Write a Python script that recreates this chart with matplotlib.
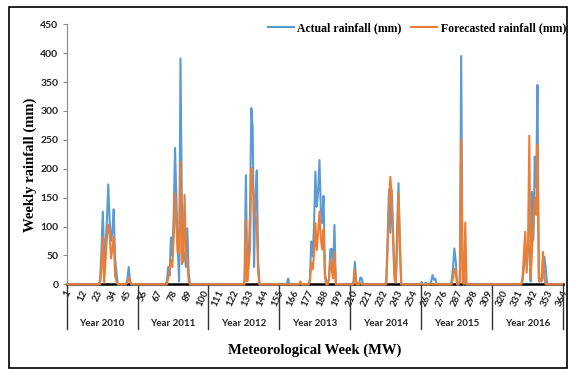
import matplotlib
matplotlib.use("Agg")
import matplotlib.pyplot as plt
import numpy as np
from matplotlib.lines import Line2D
from matplotlib.patches import Rectangle
import matplotlib.transforms as mtransforms

# ---------------- data ----------------
years = ["Year 2010", "Year 2011", "Year 2012", "Year 2013", "Year 2014", "Year 2015", "Year 2016"]
week_ticks = list(range(1, 365, 11))

actual_2010 = [0,0,0,0,0,0,0,0,0,0,0,0,0,
               0,0,0,0,0,0,0,0,0,0,0,8,60,
               126,37,70,110,173,110,75,90,130,45,21,0,0,
               0,0,0,0,0,8,30,5,0,0,0,0,0]
forecast_2010 = [0,0,0,0,0,0,0,0,0,0,0,0,0,
                 0,0,0,0,0,0,0,0,0,0,0,0,25,
                 82,3,40,80,103,90,45,60,82,15,5,0,0,
                 0,0,0,0,0,3,12,5,0,0,0,0,0]

actual_2011 = [0,0,0,0,0,0,0,0,0,0,0,0,0,
               0,0,0,0,0,0,0,0,5,30,15,81,50,
               120,236,146,60,5,391,146,55,54,30,97,20,0,
               0,0,0,0,0,0,0,0,0,0,0,0,0]
forecast_2011 = [0,0,0,0,0,0,0,0,0,0,0,0,0,
                 0,0,0,0,0,0,0,0,0,10,25,42,30,
                 80,157,100,55,54,212,35,40,155,54,40,5,0,
                 0,0,0,0,0,0,0,0,0,0,0,0,0]

actual_2012 = [0,0,0,0,0,0,0,0,0,0,0,0,0,
               0,0,0,0,0,0,0,0,0,0,0,0,0,
               5,189,10,42,120,305,270,30,150,197,40,0,0,
               0,0,0,0,0,0,0,0,0,0,0,0,0]
forecast_2012 = [0,0,0,0,0,0,0,0,0,0,0,0,0,
                 0,0,0,0,0,0,0,0,0,0,0,0,0,
                 0,111,5,30,60,201,163,150,120,105,20,0,0,
                 0,0,0,0,0,0,0,0,0,0,0,0,0]

actual_2013 = [0,0,0,0,0,0,10,0,0,0,0,0,0,
               0,0,3,0,0,0,0,0,0,10,74,48,100,
               195,134,160,215,130,106,153,20,5,0,10,61,61,
               20,103,0,0,0,0,0,0,0,0,0,0,0]
forecast_2013 = [0,0,0,0,0,0,0,0,0,0,0,0,0,
                 0,0,5,0,0,0,0,0,0,5,37,26,50,
                 106,59,90,126,80,60,95,13,0,0,10,42,26,
                 10,56,0,0,0,0,0,0,0,0,0,0,0]

actual_2014 = [0,0,5,39,5,0,0,12,10,0,0,0,0,
               0,0,0,0,0,0,0,0,0,0,0,0,0,
               5,80,164,89,164,90,20,5,100,175,60,0,0,
               0,0,0,0,0,0,0,0,0,0,0,0,0]
forecast_2014 = [0,0,0,25,0,0,0,3,0,0,0,0,0,
                 0,0,0,0,0,0,0,0,0,0,0,0,0,
                 0,60,140,186,150,80,10,3,60,157,80,0,0,
                 0,0,0,0,0,0,0,0,0,0,0,0,0]

actual_2015 = [4,0,0,3,0,0,0,5,16,8,10,0,0,
               0,0,0,0,0,0,0,0,0,5,30,62,40,
               0,0,5,395,25,20,3,0,0,0,0,0,0,
               0,0,0,0,0,0,0,0,0,0,0,0,0]
forecast_2015 = [0,0,0,0,0,0,0,0,0,0,0,0,0,
                 0,0,0,0,0,0,0,0,0,0,10,27,20,
                 0,0,5,250,5,0,107,0,0,0,0,0,0,
                 0,0,0,0,0,0,0,0,0,0,0,0,0]

actual_2016 = [0,0,0,0,0,0,0,0,0,0,0,0,0,
               0,0,0,0,0,0,0,0,0,5,30,60,40,
               70,60,5,160,77,221,168,345,10,10,5,20,48,
               30,0,0,0,0,0,0,0,0,0,0,0,0]
forecast_2016 = [0,0,0,0,0,0,0,0,0,0,0,0,0,
                 0,0,0,0,0,0,0,0,0,10,50,91,20,
                 60,257,10,60,100,150,120,241,5,5,10,56,10,
                 0,0,0,0,0,0,0,0,0,0,0,0,0]

actual = (actual_2010 + actual_2011 + actual_2012 + actual_2013 +
          actual_2014 + actual_2015 + actual_2016)
forecast = (forecast_2010 + forecast_2011 + forecast_2012 + forecast_2013 +
            forecast_2014 + forecast_2015 + forecast_2016)
weeks = np.arange(1, len(actual) + 1)

# ---------------- figure ----------------
W, H = 569, 369
fig = plt.figure(figsize=(W / 100, H / 100), dpi=100)
L, R, T, B = 66.7, 562.7, 24.3, 284.3
ax = fig.add_axes([L / W, 1 - B / H, (R - L) / W, (B - T) / H])

serif = ["Liberation Serif", "DejaVu Serif"]
sans = ["Lato", "DejaVu Sans"]

blue = "#5B9BD5"
orange = "#ED7D31"

ax.plot(weeks, actual, color=blue, lw=1.5, zorder=3, clip_on=False,
        label="Actual rainfall (mm)", solid_joinstyle="round")
ax.plot(weeks, forecast, color=orange, lw=1.5, zorder=4, clip_on=False,
        label="Forecasted rainfall (mm)", solid_joinstyle="round")

ax.set_xlim(0.5, len(actual) + 0.5)
ax.set_ylim(0, 450)
ax.set_yticks(np.arange(0, 451, 50))
for s in ["top", "right"]:
    ax.spines[s].set_visible(False)
ax.spines["left"].set_color("#868686")
ax.spines["left"].set_linewidth(0.8)
ax.spines["bottom"].set_color("black")
ax.spines["bottom"].set_linewidth(1.8)
ax.spines["bottom"].set_zorder(2)

ax.tick_params(axis="y", direction="out", length=3, color="#868686",
               labelsize=7.5, pad=3)
for lab in ax.get_yticklabels():
    lab.set_family(sans)
    lab.set_fontweight("bold")
    lab.set_color("#222222")

ax.set_xticks(week_ticks)
ax.set_xticklabels([str(w) for w in week_ticks], rotation=65, ha="center",
                   va="top", fontsize=7, family=sans, fontweight="bold",
                   color="#222222")
ax.tick_params(axis="x", length=0, pad=3)

# year separators and labels
trans = mtransforms.blended_transform_factory(ax.transData, ax.transAxes)
sep_bottom = -(329 - B) / (B - T)
for k in range(len(years) + 1):
    xs = 0.5 + 52 * k
    ax.add_line(Line2D([xs, xs], [0, sep_bottom], transform=trans, color="#333333",
                       lw=1.0, clip_on=False))
for k, yl in enumerate(years):
    ax.text(0.5 + 52 * k + 26, -(324 - B) / (B - T), yl, transform=trans,
            ha="center", va="center", fontsize=7, family=sans,
            fontweight="bold", color="#222222")

# axis titles
fig.text((L + R) / 2 / W, 1 - 350 / H, "Meteorological Week (MW)", ha="center",
         va="center", fontsize=10.5, family=serif, fontweight="bold")
fig.text(30 / W, 1 - 165 / H, "Weekly rainfall (mm)", ha="center", va="center",
         rotation=90, fontsize=10.5, family=serif, fontweight="bold")

leg = ax.legend(loc="center right", bbox_to_anchor=(566 / W, 1 - 28 / H),
                bbox_transform=fig.transFigure, ncol=2, frameon=False,
                prop={"family": serif, "weight": "bold", "size": 8.5},
                handlelength=2.2, handletextpad=0.3, columnspacing=0.8,
                borderaxespad=0, borderpad=0)

# outer frame
fig.patches.append(Rectangle((9 / W, 1 / H), 558 / W, (H - 8.3) / H,
                             transform=fig.transFigure, fill=False,
                             edgecolor="black", lw=1.2))

fig.savefig("out.png", dpi=100)
